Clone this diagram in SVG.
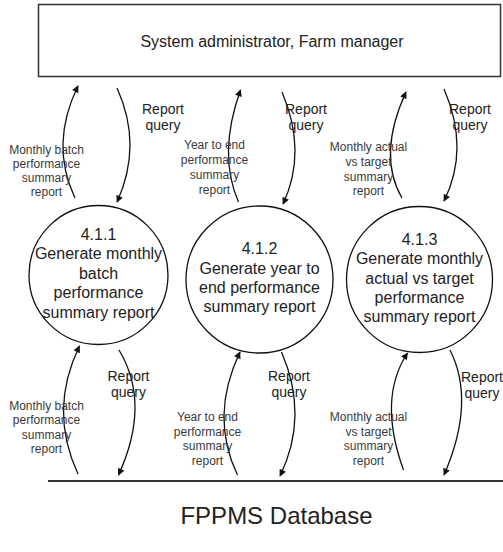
<svg xmlns="http://www.w3.org/2000/svg" width="503" height="552" viewBox="0 0 503 552">
<style>
text{font-family:"Liberation Sans",Arial,sans-serif;fill:#222;text-anchor:middle}
.big{font-size:16px}
.db{font-size:24px}
.q{font-size:14px}
.s{font-size:12px;fill:#3a3a3a}
.c{fill:#fff;stroke:#111;stroke-width:1.3}
.f{fill:none;stroke:#111;stroke-width:1.3}
</style>
<defs>
<marker id="ah" viewBox="0 0 10 10" refX="9" refY="5" markerWidth="8" markerHeight="7" markerUnits="userSpaceOnUse" orient="auto">
<path d="M0,0 L10,5 L0,10 z" fill="#111"/>
</marker>
</defs>
<rect width="503" height="552" fill="#fff"/>
<g id="ext">
<rect x="38.5" y="4.5" width="462" height="72" fill="#fff" stroke="#333" stroke-width="1.5"/>
<text class="big" x="272" y="47">System administrator, Farm manager</text>
</g>
<g id="p411">
<circle class="c" cx="98.5" cy="275" r="69.5"/>
<text class="big" x="98.5" y="240">4.1.1</text>
<text class="big" x="98.5" y="259">Generate monthly</text>
<text class="big" x="98.5" y="278.5">batch</text>
<text class="big" x="98.5" y="298">performance</text>
<text class="big" x="98.5" y="318">summary report</text>
</g>
<g id="p412">
<circle class="c" cx="259.5" cy="279.5" r="73.5"/>
<text class="big" x="259.5" y="254">4.1.2</text>
<text class="big" x="259.5" y="273.5">Generate year to</text>
<text class="big" x="259.5" y="293">end performance</text>
<text class="big" x="259.5" y="312">summary report</text>
</g>
<g id="p413">
<circle class="c" cx="419.5" cy="279.5" r="73"/>
<text class="big" x="419.5" y="244.5">4.1.3</text>
<text class="big" x="419.5" y="264">Generate monthly</text>
<text class="big" x="419.5" y="283.5">actual vs target</text>
<text class="big" x="419.5" y="302.5">performance</text>
<text class="big" x="419.5" y="322">summary report</text>
</g>
<g id="db">
<line x1="48" y1="481" x2="503" y2="481" stroke="#333" stroke-width="2"/>
<text class="db" x="276.5" y="523.5">FPPMS Database</text>
</g>
<g id="connectors">
<path class="f" d="M75,198 Q49.5,144 78,86" marker-end="url(#ah)"/>
<path class="f" d="M117,88 Q143,145 117,202" marker-end="url(#ah)"/>
<path class="f" d="M238.5,202 Q217.5,154 240.5,90" marker-end="url(#ah)"/>
<path class="f" d="M282,92 Q307.5,152 283,204" marker-end="url(#ah)"/>
<path class="f" d="M402,198 Q377,155 406,92" marker-end="url(#ah)"/>
<path class="f" d="M444,89 Q470,149 444,201" marker-end="url(#ah)"/>
<path class="f" d="M78,474 Q48.25,410 79.5,346" marker-end="url(#ah)"/>
<path class="f" d="M119,350 Q151.25,403.5 118.5,475" marker-end="url(#ah)"/>
<path class="f" d="M237.5,475 Q209.25,416.5 240,352" marker-end="url(#ah)"/>
<path class="f" d="M281.5,352 Q309.25,416 280,476" marker-end="url(#ah)"/>
<path class="f" d="M403.5,470 Q377.5,398.5 407.5,353" marker-end="url(#ah)"/>
<path class="f" d="M450,350 Q476,401.5 444,475" marker-end="url(#ah)"/>
<text class="q" x="163" y="114">Report</text>
<text class="q" x="163" y="129.5">query</text>
<text class="q" x="306" y="114">Report</text>
<text class="q" x="306" y="129.5">query</text>
<text class="q" x="470" y="114">Report</text>
<text class="q" x="470" y="129.5">query</text>
<text class="s" x="46.5" y="153.5">Monthly batch</text>
<text class="s" x="46.5" y="167.5">performance</text>
<text class="s" x="46.5" y="181.5">summary</text>
<text class="s" x="46.5" y="196">report</text>
<text class="s" x="214.5" y="149">Year to end</text>
<text class="s" x="214.5" y="164">performance</text>
<text class="s" x="214.5" y="179">summary</text>
<text class="s" x="214.5" y="193.5">report</text>
<text class="s" x="368.5" y="151">Monthly actual</text>
<text class="s" x="368.5" y="165.5">vs target</text>
<text class="s" x="368.5" y="180.5">summary</text>
<text class="s" x="368.5" y="195">report</text>
<text class="q" x="128.5" y="381">Report</text>
<text class="q" x="128.5" y="397">query</text>
<text class="q" x="289" y="381">Report</text>
<text class="q" x="289" y="397">query</text>
<text class="q" x="482" y="381.5">Report</text>
<text class="q" x="482" y="397.5">query</text>
<text class="s" x="46.5" y="410">Monthly batch</text>
<text class="s" x="46.5" y="424">performance</text>
<text class="s" x="46.5" y="438.5">summary</text>
<text class="s" x="46.5" y="453">report</text>
<text class="s" x="207.5" y="421">Year to end</text>
<text class="s" x="207.5" y="435.5">performance</text>
<text class="s" x="207.5" y="450">summary</text>
<text class="s" x="207.5" y="465">report</text>
<text class="s" x="368.5" y="421">Monthly actual</text>
<text class="s" x="368.5" y="435.5">vs target</text>
<text class="s" x="368.5" y="450">summary</text>
<text class="s" x="368.5" y="465">report</text>
</g>
</svg>
